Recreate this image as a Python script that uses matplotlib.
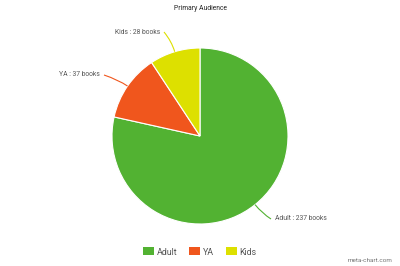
import matplotlib

matplotlib.use('Agg')
import numpy as np
import matplotlib.pyplot as plt
from matplotlib.patches import Patch, PathPatch
from matplotlib.path import Path

plt.rcParams['font.family'] = ['Roboto', 'DejaVu Sans']

# Data
categories = ['Adult', 'YA', 'Kids']
values = [237, 37, 28]
colors = ['#52b232', '#f0561d', '#dde000']
label_pos = [(275, 47), (100, 191), (160, 234)]  # label anchor (y up)
label_ha = ['left', 'right', 'right']

fig = plt.figure(figsize=(4, 2.66), dpi=100)
ax = fig.add_axes([0, 0, 1, 1])

cx, cy, r = 200, 130, 88
wedges, _ = ax.pie(values, colors=colors, startangle=90, counterclock=False,
                   center=(cx, cy), radius=r, frame=True,
                   wedgeprops=dict(edgecolor='white', linewidth=0.8))
ax.set_xlim(0, 400)
ax.set_ylim(0, 266)
ax.set_aspect('equal')
ax.axis('off')

# Leader lines and labels
for w, cat, val, col, pos, ha in zip(wedges, categories, values, colors, label_pos, label_ha):
    mid = np.deg2rad((w.theta1 + w.theta2) / 2)
    ux, uy = np.cos(mid), np.sin(mid)
    p0 = (cx + r * ux, cy + r * uy)
    p1 = (cx + (r + 11) * ux, cy + (r + 11) * uy)
    p2 = (pos[0] - 4, pos[1]) if ha == 'left' else (pos[0] + 4, pos[1])
    path = Path([p0, p1, p2], [Path.MOVETO, Path.CURVE3, Path.CURVE3])
    ax.add_patch(PathPatch(path, facecolor='none', edgecolor=col, lw=0.8))
    ax.text(pos[0], pos[1], f'{cat} : {val} books', ha=ha, va='center',
            fontsize=4.9, color='#555555')

ax.text(200, 257, 'Primary Audience', ha='center', va='center', fontsize=4.9, color='#222222')
ax.text(393, 5, 'meta-chart.com', ha='right', va='center', fontsize=4.6, color='#777777')

handles = [Patch(facecolor=c, edgecolor='none') for c in colors]
fig.legend(handles, categories, loc='center', bbox_to_anchor=(0.5, 1 - 252 / 266), ncol=3,
           frameon=False, fontsize=6.4, labelcolor='#555555', handlelength=1.25, handleheight=1.0,
           handletextpad=0.3, columnspacing=1.3)

fig.savefig('out.png', dpi=100)
